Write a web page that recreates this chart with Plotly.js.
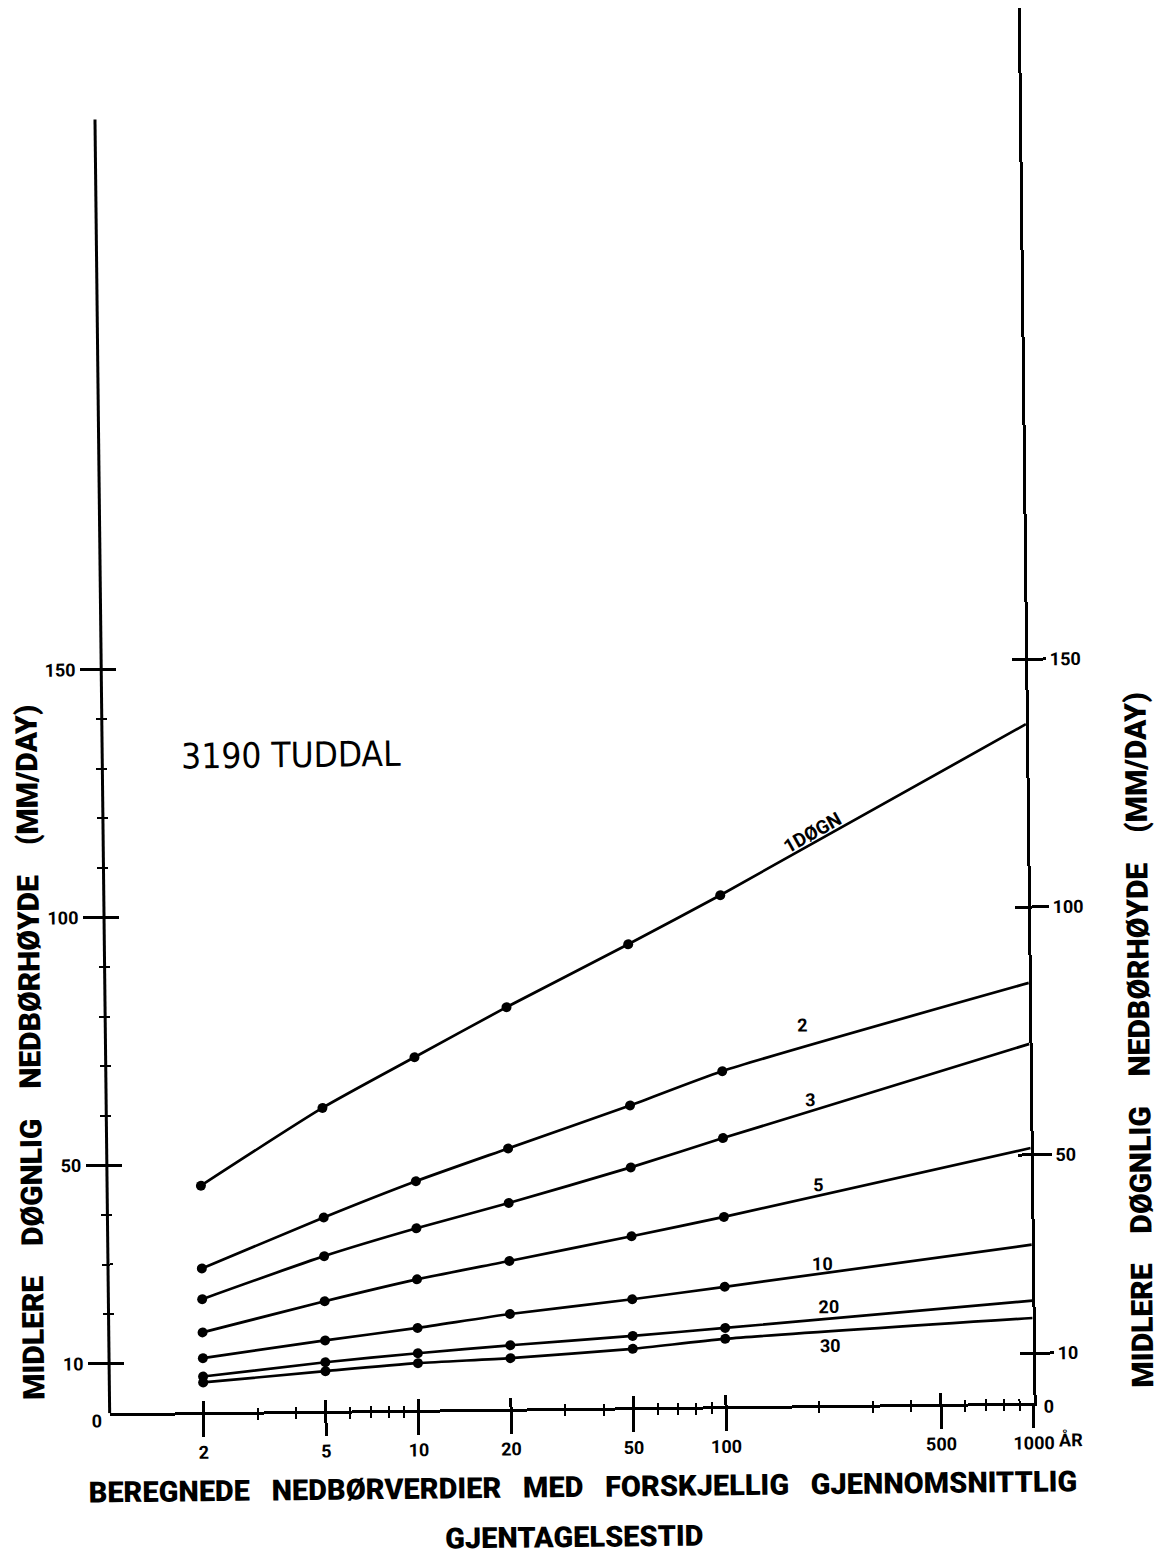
<!DOCTYPE html>
<html>
<head>
<meta charset="utf-8">
<script src="https://cdn.plot.ly/plotly-3.0.1.min.js"></script>
<style>
  html, body { margin: 0; padding: 0; background: #fff; overflow: hidden; }
  #chart { width: 1158px; height: 1555px; transform: rotate(-0.65deg); transform-origin: 570px 1000px; }
</style>
</head>
<body>
<div id="chart"></div>
<script>
// Return periods (years): dots at the computed periods, curves run on to 1000 years
const returnPeriods = [2, 5, 10, 20, 50, 100, 1000];
const dotCount = 6;

// Mean daily precipitation (mm/day) for each duration (days)
const durations = ['1DØGN', '2', '3', '5', '10', '20', '30'];
const precip1 = [45.7, 61.1, 71.1, 81.0, 93.4, 103.1, 136.9];
const precip2 = [29.0, 39.0, 46.1, 52.5, 60.9, 67.6, 84.7];
const precip3 = [22.8, 31.2, 36.6, 41.5, 48.4, 54.1, 72.4];
const precip5 = [16.1, 22.1, 26.3, 29.8, 34.5, 38.2, 51.4];
const precip10 = [10.9, 14.2, 16.5, 19.1, 21.8, 24.1, 31.9];
const precip20 = [7.2, 9.8, 11.4, 12.8, 14.4, 15.8, 20.6];
const precip30 = [6.0, 8.0, 9.4, 10.2, 11.8, 13.6, 17.1];
const seriesValues = [precip1, precip2, precip3, precip5, precip10, precip20, precip30];

// Axis ticks
const xTickVals = [2, 5, 10, 20, 50, 100, 500, 1000];
const xTickText = ['2', '5', '10', '20', '50', '100', '500', '1000'];
const xMinorVals = [3, 4, 6, 7, 8, 9, 30, 40, 60, 70, 80, 90, 200, 300, 400, 600, 700, 800, 900];
const yTickVals = [10, 50, 100, 150];
const yTickText = ['10', '50', '100', '150'];
const yMinorVals = [20, 30, 40, 60, 70, 80, 90, 110, 120, 130, 140];

const Y_TOP = 281.4;
const LEFT_AXIS_TOP = 261;
const X_RANGE = [-0.004, 3];

const tickFont = { family: 'Roboto, sans-serif', size: 18, color: '#000', weight: 700 };
const heavyFont = { family: 'Roboto, sans-serif', size: 29, color: '#000', weight: 900 };
const sideTitleFont = { family: 'Roboto, sans-serif', size: 30, color: '#000', weight: 900 };
const GAP = '\u00A0\u00A0\u00A0';
const SIDE_GAP = '\u00A0\u00A0\u00A0\u00A0';
const sideTitle = ['MIDLERE', 'DØGNLIG', 'NEDBØRHØYDE', '(MM/DAY)'].join(SIDE_GAP);

const traces = [];
seriesValues.forEach((vals, i) => {
  traces.push({
    x: returnPeriods, y: vals, type: 'scatter', mode: 'lines',
    line: { color: '#000', width: 2.7, shape: 'spline', smoothing: 0.6 },
    hoverinfo: 'skip', showlegend: false, name: durations[i]
  });
  traces.push({
    x: returnPeriods.slice(0, dotCount), y: vals.slice(0, dotCount),
    type: 'scatter', mode: 'markers',
    marker: { color: '#000', size: 10 },
    showlegend: false, name: durations[i]
  });
});
// empty traces so the overlay axes that carry the inner tick halves are drawn
traces.push({ x: [], y: [], xaxis: 'x2', yaxis: 'y', showlegend: false, hoverinfo: 'skip' });
traces.push({ x: [], y: [], xaxis: 'x', yaxis: 'y2', showlegend: false, hoverinfo: 'skip' });
traces.push({ x: [], y: [], xaxis: 'x', yaxis: 'y3', showlegend: false, hoverinfo: 'skip' });
traces.push({ x: [], y: [], xaxis: 'x', yaxis: 'y4', showlegend: false, hoverinfo: 'skip' });

const baseY = {
  type: 'linear', range: [0, Y_TOP], autorange: false, showgrid: false, zeroline: false,
  tickvals: yTickVals, ticktext: yTickText, tickcolor: '#000', tickwidth: 3,
  tickfont: tickFont, fixedrange: true
};

const layout = {
  width: 1158, height: 1555,
  margin: { l: 104.5, r: 129.4, t: 13, b: 147, pad: 0 },
  paper_bgcolor: '#fff', plot_bgcolor: 'rgba(0,0,0,0)',
  showlegend: false,
  xaxis: {
    type: 'log', range: X_RANGE, autorange: false, showgrid: false, zeroline: false,
    showline: true, linecolor: '#000', linewidth: 3,
    tickvals: xTickVals, ticktext: xTickText, ticks: 'outside', ticklen: 22,
    tickwidth: 3, tickcolor: '#000', tickfont: tickFont, ticklabelstandoff: 0,
    minor: { tickvals: xMinorVals, ticks: 'outside', ticklen: 5, tickwidth: 2, tickcolor: '#000', showgrid: false },
    fixedrange: true
  },
  xaxis2: {
    type: 'log', range: X_RANGE, autorange: false, overlaying: 'x', anchor: 'y', side: 'bottom',
    showgrid: false, zeroline: false, showline: false, showticklabels: false,
    tickvals: xTickVals, ticks: 'inside', ticklen: 11, tickwidth: 3, tickcolor: '#000',
    minor: { tickvals: xMinorVals, ticks: 'inside', ticklen: 4, tickwidth: 2, tickcolor: '#000', showgrid: false },
    fixedrange: true
  },
  yaxis: Object.assign({}, baseY, {
    side: 'left', anchor: 'x', showline: false, ticks: 'outside', ticklen: 20, ticklabelstandoff: 1,
    minor: { tickvals: yMinorVals, ticks: 'outside', ticklen: 5, tickwidth: 2, tickcolor: '#000', showgrid: false }
  }),
  yaxis3: Object.assign({}, baseY, {
    side: 'left', anchor: 'x', overlaying: 'y', showline: false, ticks: 'inside', ticklen: 15,
    showticklabels: false,
    minor: { tickvals: yMinorVals, ticks: 'inside', ticklen: 5, tickwidth: 2, tickcolor: '#000', showgrid: false }
  }),
  yaxis2: Object.assign({}, baseY, {
    side: 'right', anchor: 'x', overlaying: 'y', showline: true, linecolor: '#000', linewidth: 3,
    ticks: 'outside', ticklen: 18, ticklabelstandoff: 0
  }),
  yaxis4: Object.assign({}, baseY, {
    side: 'right', anchor: 'x', overlaying: 'y', showline: false, ticks: 'inside', ticklen: 13,
    showticklabels: false
  }),
  shapes: [
    // left axis line, shorter than the right one
    { type: 'line', xref: 'paper', yref: 'y', x0: 0, x1: 0, y0: 0, y1: LEFT_AXIS_TOP,
      line: { color: '#000', width: 3 }, layer: 'above' }
  ],
  annotations: [
    { xref: 'paper', yref: 'y', x: 0, y: 0, xanchor: 'right', yanchor: 'middle', xshift: -6, yshift: -7,
      text: '0', showarrow: false, font: tickFont },
    { xref: 'paper', yref: 'y', x: 1, y: 0, xanchor: 'left', yanchor: 'middle', xshift: 8, yshift: -3,
      text: '0', showarrow: false, font: tickFont },
    { xref: 'x', yref: 'paper', x: 3, y: 0, xanchor: 'left', yanchor: 'top', xshift: 23, yshift: -24,
      text: 'ÅR', showarrow: false, font: tickFont },
    // station name
    { xref: 'x', yref: 'y', x: 0.611, y: 132.4, xanchor: 'center', yanchor: 'middle',
      text: '3190 TUDDAL', showarrow: false,
      font: { family: '"DejaVu Sans Condensed", "DejaVu Sans", sans-serif', size: 35, color: '#000' } },
    // curve labels
    { xref: 'x', yref: 'y', x: 2.302, y: 115.5, text: '1DØGN', textangle: -28.6, showarrow: false,
      font: { family: 'Roboto, sans-serif', size: 19, color: '#000', weight: 700 } },
    { xref: 'x', yref: 'y', x: 2.263, y: 76.7, text: '2', showarrow: false, font: tickFont },
    { xref: 'x', yref: 'y', x: 2.286, y: 61.6, text: '3', showarrow: false, font: tickFont },
    { xref: 'x', yref: 'y', x: 2.309, y: 44.4, text: '5', showarrow: false, font: tickFont },
    { xref: 'x', yref: 'y', x: 2.319, y: 28.5, text: '10', showarrow: false, font: tickFont },
    { xref: 'x', yref: 'y', x: 2.337, y: 19.8, text: '20', showarrow: false, font: tickFont },
    { xref: 'x', yref: 'y', x: 2.342, y: 12.1, text: '30', showarrow: false, font: tickFont },
    // axis titles
    { xref: 'paper', yref: 'paper', x: -0.0813, y: 0.2595, xanchor: 'center', yanchor: 'middle',
      text: sideTitle, textangle: -90, showarrow: false, font: sideTitleFont },
    { xref: 'paper', yref: 'paper', x: 1.1185, y: 0.2598, xanchor: 'center', yanchor: 'middle',
      text: sideTitle, textangle: -90, showarrow: false, font: sideTitleFont },
    { xref: 'paper', yref: 'paper', x: 0.5119, y: -0.0566, xanchor: 'center', yanchor: 'middle',
      text: ['BEREGNEDE', 'NEDBØRVERDIER', 'MED', 'FORSKJELLIG', 'GJENNOMSNITTLIG'].join(GAP),
      showarrow: false, font: heavyFont },
    { xref: 'paper', yref: 'paper', x: 0.5015, y: -0.0925, xanchor: 'center', yanchor: 'middle',
      text: 'GJENTAGELSESTID', showarrow: false, font: heavyFont }
  ]
};

Plotly.newPlot('chart', traces, layout, { staticPlot: true, displayModeBar: false });
</script>
</body>
</html>
